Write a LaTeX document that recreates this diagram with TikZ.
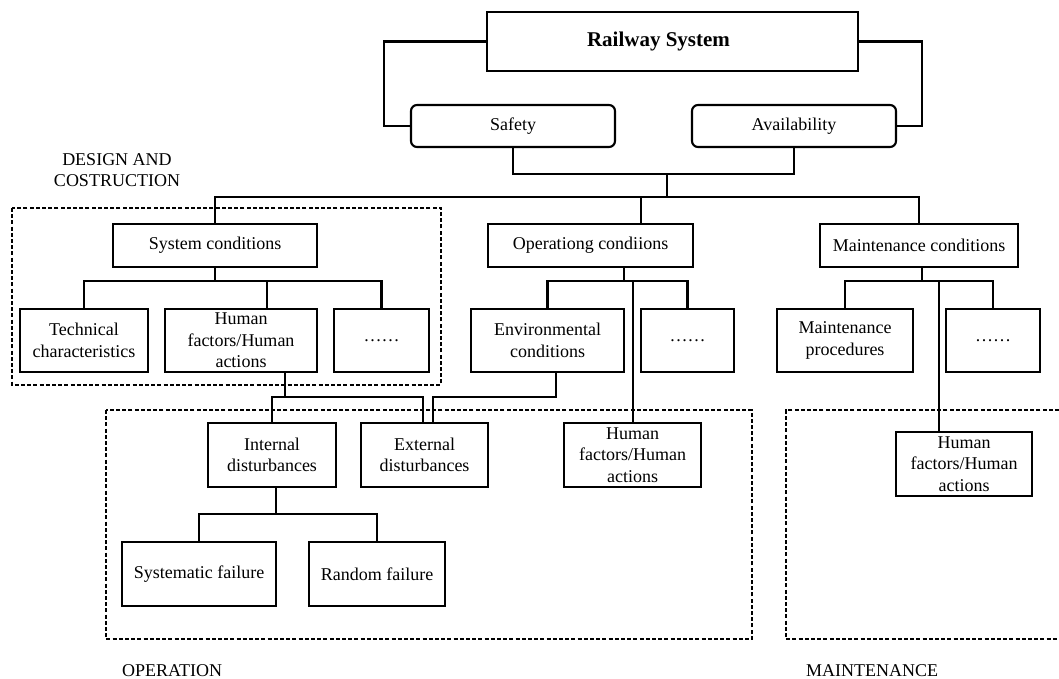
\documentclass[tikz,border=0pt]{standalone}
\usepackage{fontspec}
\setmainfont{Liberation Serif}
\begin{document}
\begin{tikzpicture}[x=1pt,y=-1pt,
  box/.style={draw, line width=2.1pt, inner sep=0pt, align=center, font=\fontsize{18}{21.5}\selectfont},
  rbox/.style={box, rounded corners=6pt},
  wh/.style 2 args={minimum width=#1pt, minimum height=#2pt},
  conn/.style={line width=2.1pt, line cap=rect},
  region/.style={line width=1.5pt, dash pattern=on 4pt off 2.2pt},
  lbl/.style={inner sep=0pt, align=center, font=\fontsize{18}{21.5}\selectfont}]
\useasboundingbox (0,0) rectangle (1059,679);

% dashed regions
\draw[region] (12,208) rectangle (441,385);
\draw[region] (106,410) rectangle (752,639);
\draw[region] (1059,410) -- (786,410) -- (786,639) -- (1059,639);

% labels
\node[lbl] (ldes) at (117,170) {DESIGN AND\\COSTRUCTION};
\node[lbl, anchor=west] (lop) at (122,671) {OPERATION};
\node[lbl, anchor=west] (lmt) at (806,671) {MAINTENANCE};

% top
\node[box, wh={371}{59}, font=\fontsize{21}{25}\selectfont\bfseries] (rail) at (672.5,41.5) {Railway System\hspace*{28pt}};
\node[rbox, wh={204}{42}] (safety) at (513,126) {Safety};
\node[rbox, wh={204}{42}] (avail) at (794,126) {Availability};

% level 2
\node[box, wh={204}{43}] (sys) at (215,245.5) {System conditions};
\node[box, wh={205}{43}] (op) at (590.5,245.5) {Operationg condiions};
\node[box, wh={198}{43}] (mcond) at (919,245.5) {Maintenance conditions};

% level 3
\node[box, wh={128}{63}] (tech) at (84,340.5) {Technical\\characteristics};
\node[box, wh={152}{63}] (humD) at (241,340.5) {Human\\factors/Human\\actions};
\node[box, wh={95}{63}] (dotsD) at (381.5,340.5) {\dots\dots};
\node[box, wh={153}{63}] (env) at (547.5,340.5) {Environmental\\conditions};
\node[box, wh={93}{63}] (dotsO) at (687.5,340.5) {\dots\dots};
\node[box, wh={136}{63}] (mproc) at (845,340.5) {Maintenance\\procedures};
\node[box, wh={94}{63}] (dotsM) at (993,340.5) {\dots\dots};

% level 4
\node[box, wh={128}{64}] (int) at (272,455) {Internal\\disturbances};
\node[box, wh={127}{64}] (ext) at (424.5,455) {External\\disturbances};
\node[box, wh={137}{64}] (humO) at (632.5,455) {Human\\factors/Human\\actions};
\node[box, wh={136}{64}] (humM) at (964,464) {Human\\factors/Human\\actions};

% level 5
\node[box, wh={154}{64}] (sfail) at (199,574) {Systematic failure};
\node[box, wh={136}{64}] (rfail) at (377,574) {Random failure};

% helper coordinates
\coordinate (lA) at (384,41.5);
\coordinate (rA) at (922,41.5);
\coordinate (jt) at (667,174);
\coordinate (jb) at (667,197);
\coordinate (bOp) at (641,197);
\coordinate (sysh) at (215,281);
\coordinate (hdT) at (267,281);
\coordinate (oh) at (624,281);
\coordinate (ohh) at (633,281);
\coordinate (mh) at (922,281);
\coordinate (mhh) at (939,281);
\coordinate (dh) at (285,397);
\coordinate (e1) at (423,397);
\coordinate (e2) at (433,397);
\coordinate (ev) at (556,397);
\coordinate (ih) at (276,514);

% connectors
\draw[conn] (rail.west) -- (lA) |- (safety.west);
\draw[conn] (rail.east) -- (rA) |- (avail.east);
\draw[conn] (safety.south) |- (jt) -| (avail.south);
\draw[conn] (jt) -- (jb);
\draw[conn] (sys.north) |- (jb) -| (mcond.north);
\draw[conn] (bOp) -- (bOp |- op.north);

\draw[conn] (sys.south) -- (sysh);
\draw[conn] (tech.north) |- (sysh) -| (dotsD.north);
\draw[conn] (hdT) -- (hdT |- humD.north);

\draw[conn] (oh |- op.south) -- (oh);
\draw[conn] (env.north) |- (oh) -| (dotsO.north);
\draw[conn] (ohh) -- (ohh |- humO.north);

\draw[conn] (mh |- mcond.south) -- (mh);
\draw[conn] (mproc.north) |- (mh) -| (dotsM.north);
\draw[conn] (mhh) -- (mhh |- humM.north);

\draw[conn] (dh |- humD.south) -- (dh);
\draw[conn] (int.north) |- (e1) -- (e1 |- ext.north);
\draw[conn] (ev |- env.south) -- (ev) -- (e2) -- (e2 |- ext.north);

\draw[conn] (ih |- int.south) -- (ih);
\draw[conn] (sfail.north) |- (ih) -| (rfail.north);
\end{tikzpicture}
\end{document}
